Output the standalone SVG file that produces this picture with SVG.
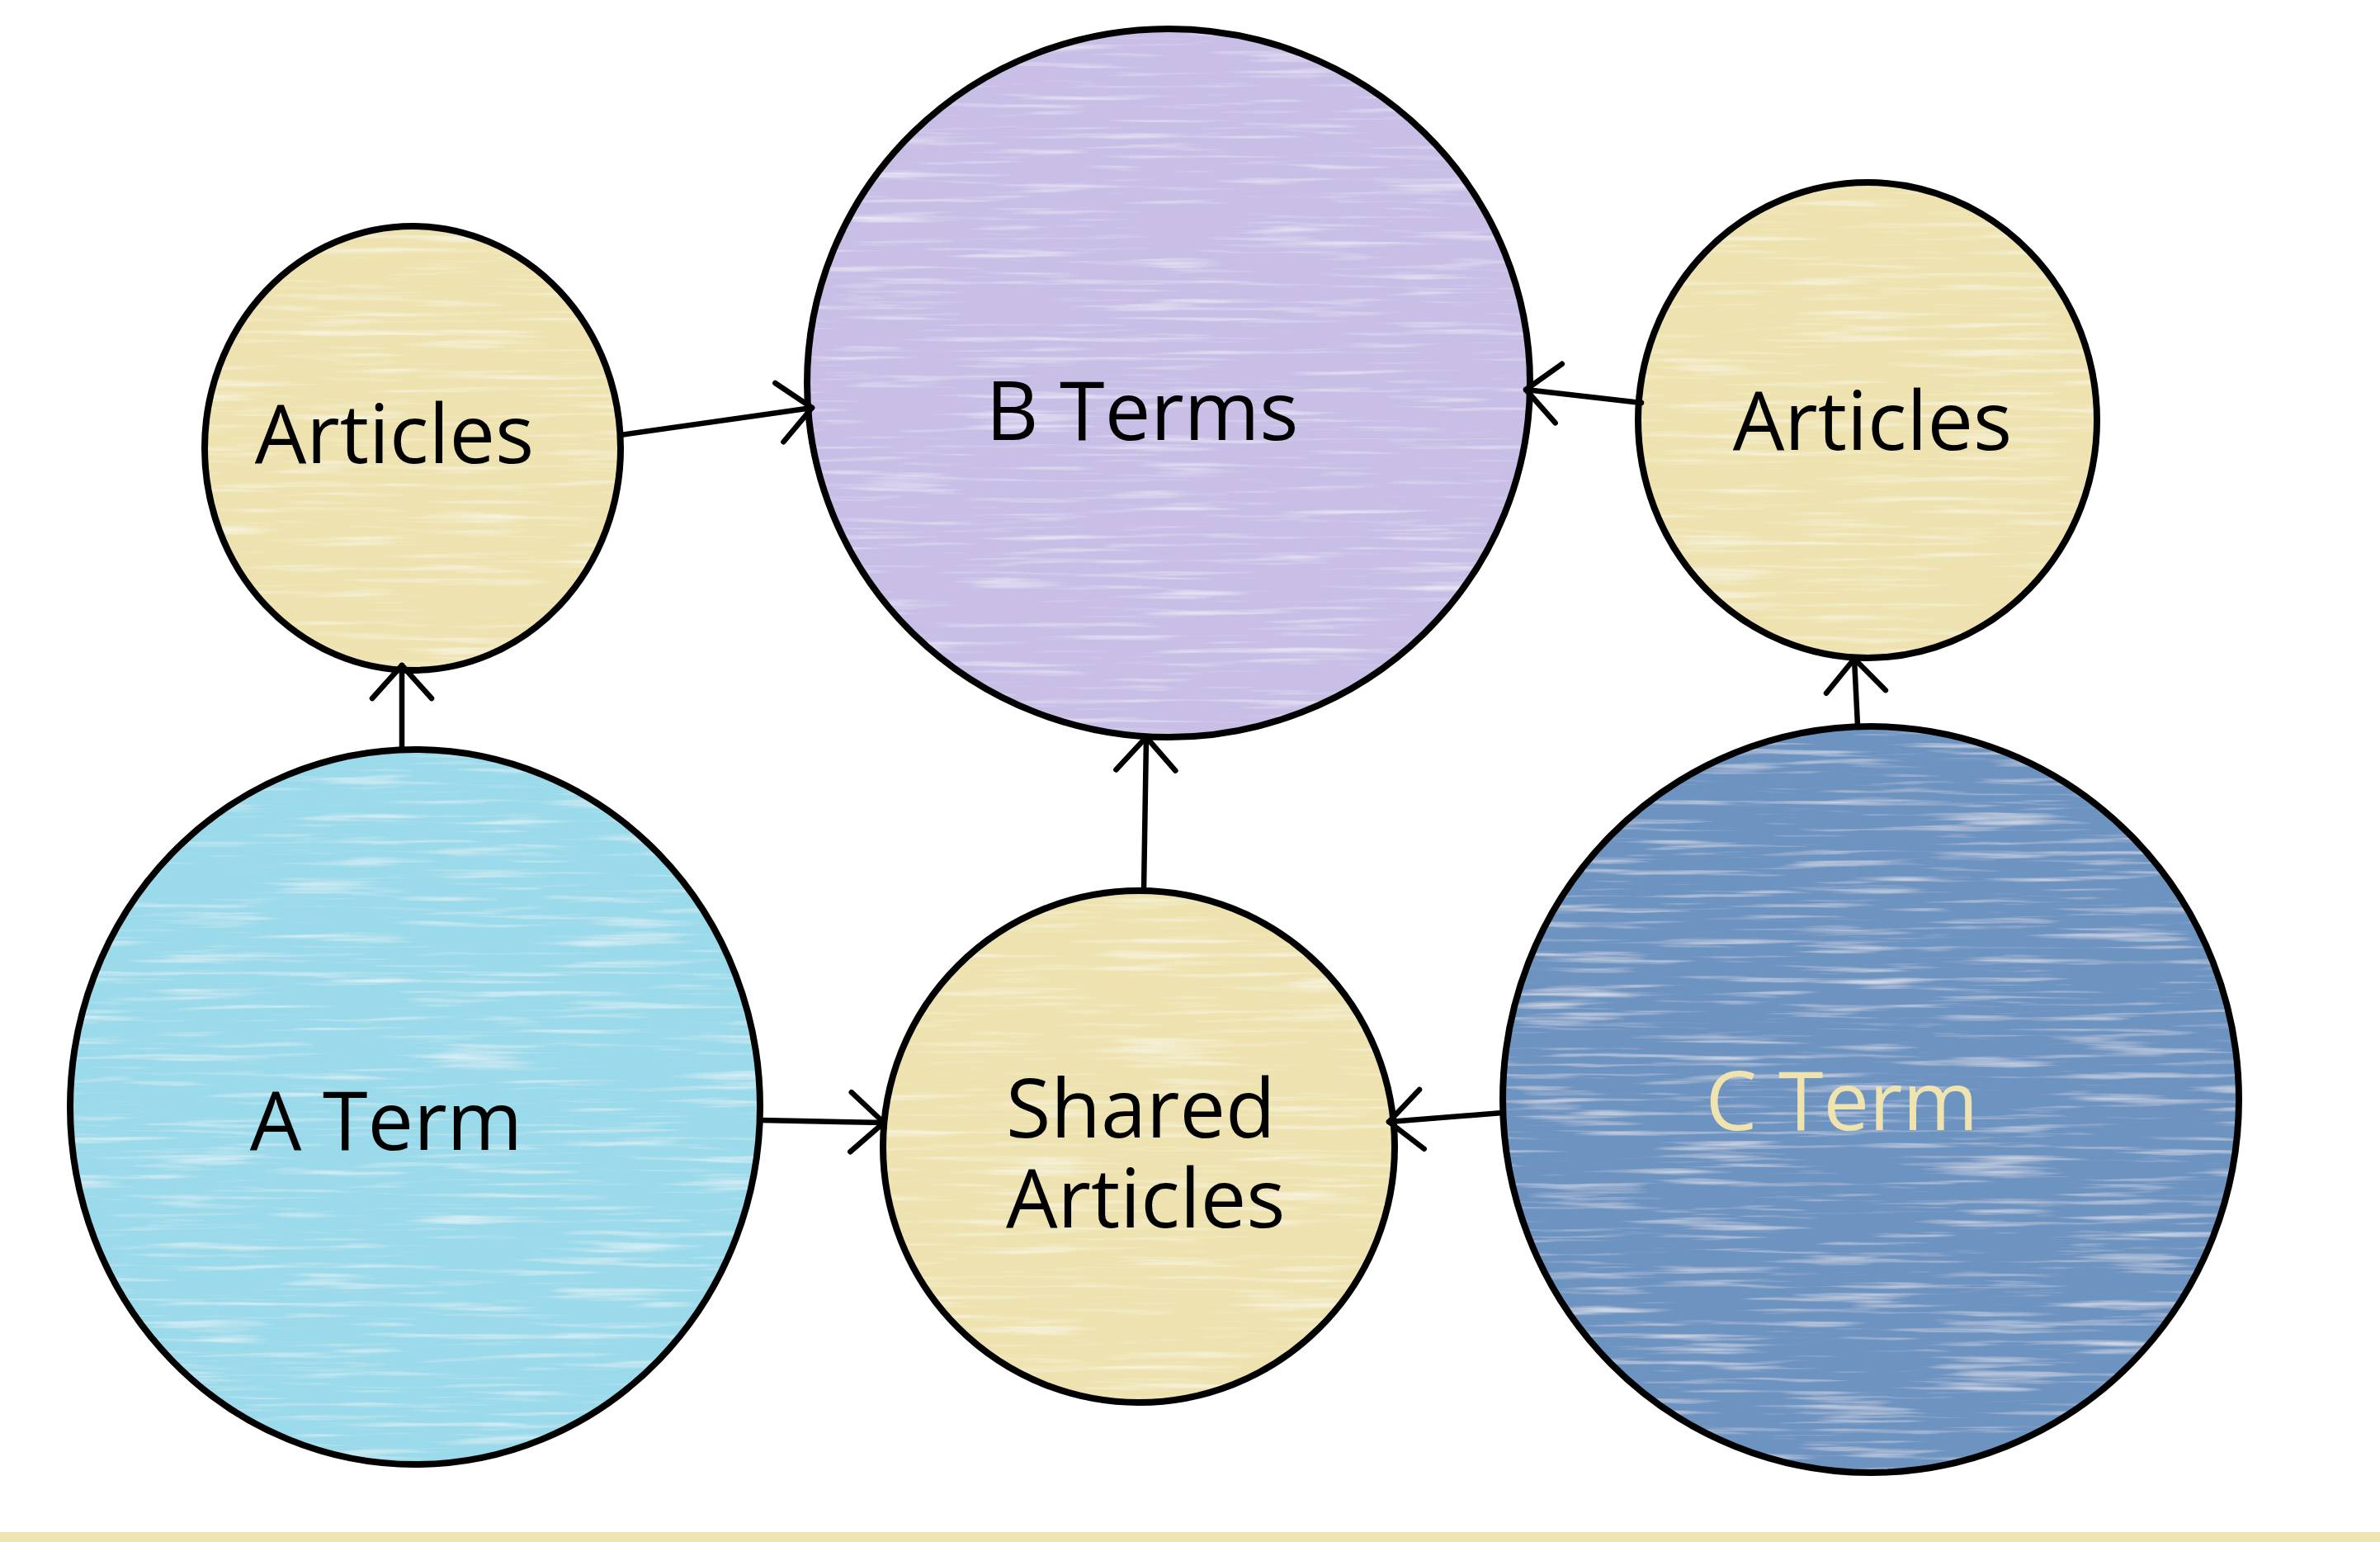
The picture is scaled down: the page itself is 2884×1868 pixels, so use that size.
<svg xmlns="http://www.w3.org/2000/svg" width="2884" height="1868" viewBox="0 0 2884 1868">
<style>
.lbl{font-family:"Open Sans","Noto Sans","Liberation Sans",sans-serif;font-size:99px;fill:#000}
.edge{fill:none;stroke:#000;stroke-width:6.5;stroke-linecap:round;marker-end:url(#arr)}
.outline{fill:none;stroke:#000;stroke-width:8}
.tex{filter:url(#tex)}
</style>
<defs>
<filter id="tex" x="0" y="0" width="100%" height="100%">
<feTurbulence type="fractalNoise" baseFrequency="0.006 0.13" numOctaves="3" seed="4" result="n"/>
<feColorMatrix in="n" type="matrix" values="0 0 0 0 1 0 0 0 0 1 0 0 0 0 1 0 0 0 1.5 -0.8" result="w"/>
<feComposite in="w" in2="SourceGraphic" operator="in" result="wc"/>
<feMerge><feMergeNode in="SourceGraphic"/><feMergeNode in="wc"/></feMerge>
</filter>
<marker id="arr" markerUnits="userSpaceOnUse" markerWidth="120" markerHeight="120" viewBox="-60 -60 120 120" refX="0" refY="0" orient="auto" overflow="visible">
<path d="M-40,-36 L0,0 L-40,36" fill="none" stroke="#000" stroke-width="6.5" stroke-linecap="round" stroke-linejoin="round"/>
</marker>
</defs>
<rect x="0" y="0" width="2884" height="1868" fill="#fff"/>
<rect x="0" y="1856" width="2884" height="12" fill="#EFE5B2"/>

<g id="node-b-terms">
<ellipse class="tex" cx="1416" cy="464" rx="438" ry="429" fill="#C8BEE6"/>
<ellipse class="outline" cx="1416" cy="464" rx="438" ry="429"/>
<text class="lbl" x="1384" y="533" text-anchor="middle">B Terms</text>
</g>
<g id="node-articles-left">
<ellipse class="tex" cx="500" cy="543" rx="252" ry="269" fill="#EEE3B0"/>
<ellipse class="outline" cx="500" cy="543" rx="252" ry="269"/>
<text class="lbl" x="478" y="561" text-anchor="middle">Articles</text>
</g>
<g id="node-articles-right">
<ellipse class="tex" cx="2263" cy="509" rx="278" ry="288" fill="#EEE3B0"/>
<ellipse class="outline" cx="2263" cy="509" rx="278" ry="288"/>
<text class="lbl" x="2269" y="545" text-anchor="middle">Articles</text>
</g>
<g id="node-a-term">
<ellipse class="tex" cx="503" cy="1341" rx="418" ry="433" fill="#9BDAEA"/>
<ellipse class="outline" cx="503" cy="1341" rx="418" ry="433"/>
<text class="lbl" x="468" y="1393" text-anchor="middle">A Term</text>
</g>
<g id="node-shared-articles">
<ellipse class="tex" cx="1380" cy="1389" rx="310" ry="310" fill="#EEE3B0"/>
<ellipse class="outline" cx="1380" cy="1389" rx="310" ry="310"/>
<text class="lbl" x="1219" y="1378">Shared</text>
<text class="lbl" x="1219" y="1487">Articles</text>
</g>
<g id="node-c-term">
<ellipse class="tex" cx="2267" cy="1332" rx="446" ry="452" fill="#6D93C1"/>
<ellipse class="outline" cx="2267" cy="1332" rx="446" ry="452"/>
<text class="lbl" x="2232" y="1369" text-anchor="middle" style="fill:#EFE4B0">C Term</text>
</g>

<g id="connectors">
<line class="edge" x1="487" y1="908" x2="487" y2="806"/>
<line class="edge" x1="752" y1="527" x2="984" y2="494"/>
<line class="edge" x1="1989" y1="488" x2="1849" y2="472"/>
<line class="edge" x1="2251" y1="879" x2="2247" y2="798"/>
<line class="edge" x1="1386" y1="1079" x2="1389" y2="893"/>
<line class="edge" x1="922" y1="1357" x2="1071" y2="1360"/>
<line class="edge" x1="1821" y1="1348" x2="1683" y2="1359"/>
</g>
</svg>
